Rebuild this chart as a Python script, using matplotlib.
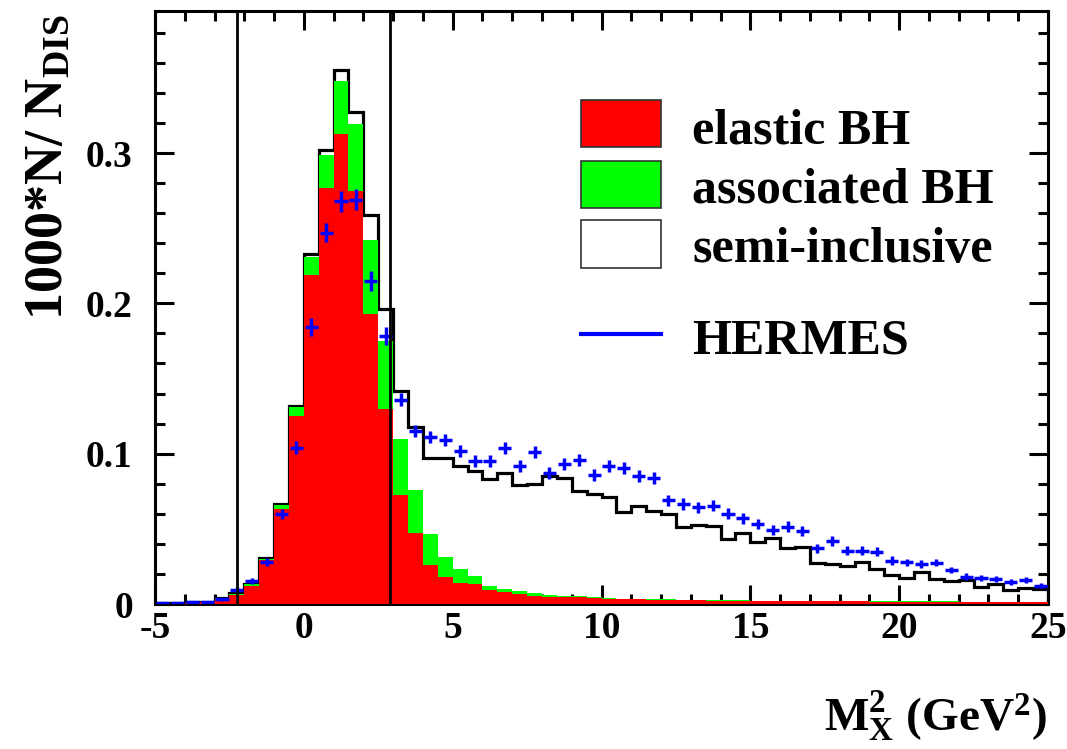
import numpy as np
import matplotlib
matplotlib.use('Agg')
import matplotlib.pyplot as plt
from matplotlib.ticker import MultipleLocator, FuncFormatter
from matplotlib.patches import Rectangle
from matplotlib.lines import Line2D

plt.rcParams['font.family'] = 'Liberation Serif'
plt.rcParams['font.weight'] = 'bold'
plt.rcParams['mathtext.fontset'] = 'custom'
plt.rcParams['mathtext.rm'] = 'Liberation Serif:bold'
plt.rcParams['mathtext.it'] = 'Liberation Serif:bold'
plt.rcParams['mathtext.bf'] = 'Liberation Serif:bold'
plt.rcParams['axes.unicode_minus'] = False

# bin edges of M_X^2 (GeV^2), 0.5 wide from -5 to 25
edges = np.arange(-5.0, 25.01, 0.5)

# elastic BH (red)
elastic = [0, 0, 0.0005, 0.001, 0.0035, 0.006, 0.012, 0.029, 0.063, 0.125,
           0.219, 0.277, 0.313, 0.275, 0.193, 0.130, 0.0725, 0.047, 0.026, 0.018,
           0.0138, 0.013, 0.009, 0.008, 0.0067, 0.0053, 0.0049, 0.0045, 0.0044, 0.0042,
           0.0035, 0.003, 0.003, 0.0028, 0.0026, 0.0025, 0.0024, 0.0023, 0.0022, 0.0021,
           0.002, 0.002, 0.0019, 0.0019, 0.0018, 0.0018, 0.0017, 0.0017, 0.0016, 0.0016,
           0.0015, 0.0015, 0.0015, 0.0014, 0.0014, 0.0014, 0.0013, 0.0013, 0.0013, 0.0012]

# associated BH (green, stacked on elastic)
associated = [0, 0, 0, 0, 0.0002, 0.0005, 0.001, 0.001, 0.003, 0.006,
              0.012, 0.022, 0.035, 0.044, 0.049, 0.045, 0.0375, 0.029, 0.0205, 0.0135,
              0.0092, 0.0056, 0.003, 0.0018, 0.002, 0.0018, 0.0011, 0.001, 0.0006, 0.0005,
              0.0005, 0.0006, 0.0004, 0.0004, 0.0004, 0.0003, 0.0003, 0.0003, 0.0003, 0.0003,
              0.0003, 0.0003, 0.0003, 0.0003, 0.0003, 0.0003, 0.0003, 0.0003, 0.0003, 0.0003,
              0.0003, 0.0003, 0.0002, 0.0003, 0.0002, 0.0002, 0.0002, 0.0002, 0.0002, 0.0002]

# semi-inclusive (open, stacked on top)
semi_inclusive = [0.0005, 0.0005, 0.0005, 0.0005, 0.0003, 0.0005, 0.0005, 0.0005, 0.0005, 0.0005,
                  0.002, 0.003, 0.007, 0.008, 0.017, 0.021, 0.032, 0.042, 0.0505, 0.0655,
                  0.069, 0.0699, 0.071, 0.0772, 0.0703, 0.0729, 0.079, 0.0785, 0.070, 0.0688,
                  0.067, 0.0579, 0.0616, 0.0588, 0.057, 0.0487, 0.0498, 0.0494, 0.0405, 0.0446,
                  0.0387, 0.0414, 0.0353, 0.0355, 0.025, 0.0243, 0.0233, 0.0261, 0.0214, 0.0174,
                  0.0153, 0.0197, 0.0149, 0.0136, 0.0144, 0.0099, 0.0118, 0.0078, 0.0089, 0.0084]

# HERMES data at bin centres
hermes = [0.0005, 0.0007, 0.001, 0.0013, 0.003, 0.0095, 0.015, 0.028, 0.060, 0.104,
          0.184, 0.247, 0.268, 0.269, 0.215, 0.178, 0.136, 0.115, 0.111, 0.109,
          0.102, 0.095, 0.095, 0.1036, 0.092, 0.101, 0.0874, 0.093, 0.0958, 0.0858,
          0.092, 0.0903, 0.085, 0.0836, 0.069, 0.0665, 0.0643, 0.0655, 0.060, 0.057,
          0.0532, 0.0492, 0.0514, 0.0486, 0.037, 0.042, 0.0353, 0.0353, 0.0348, 0.0288,
          0.0277, 0.0266, 0.0275, 0.0226, 0.0182, 0.0175, 0.0166, 0.0148, 0.016, 0.0122]
hermes_err = [0.0008, 0.0008, 0.0008, 0.0008, 0.001, 0.0015, 0.002, 0.0025, 0.0035, 0.0045,
              0.006, 0.0065, 0.007, 0.007, 0.0065, 0.006, 0.0045, 0.004, 0.004, 0.004,
              0.004, 0.004, 0.004, 0.004, 0.004, 0.004, 0.004, 0.004, 0.004, 0.004,
              0.004, 0.004, 0.004, 0.004, 0.0038, 0.0038, 0.0038, 0.0038, 0.0037, 0.0037,
              0.0036, 0.0035, 0.0035, 0.0034, 0.0032, 0.0032, 0.003, 0.003, 0.003, 0.0028,
              0.0025, 0.0025, 0.0024, 0.0023, 0.0022, 0.002, 0.002, 0.0019, 0.0018, 0.0017]

# exclusivity cuts
cuts = [-2.25, 2.89]

elastic = np.array(elastic)
green_top = elastic + np.array(associated)
total = green_top + np.array(semi_inclusive)
centres = 0.5 * (edges[:-1] + edges[1:])

W, H = 1067, 749
fig = plt.figure(figsize=(W / 100, H / 100), dpi=100)
ax = fig.add_axes([155 / W, 1 - 604 / H, (1048 - 155) / W, (604 - 11) / H])

ax.stairs(total, edges, color='black', linewidth=2.3, zorder=1)
ax.stairs(green_top, edges, fill=True, color='#00ff00', zorder=2)
ax.stairs(elastic, edges, fill=True, color='#ff0000', zorder=3)
ax.errorbar(centres, hermes, xerr=0.22, yerr=hermes_err, fmt='none',
            ecolor='#0000ff', elinewidth=2.5, capsize=0, zorder=4)
for c in cuts:
    ax.axvline(c, color='black', linewidth=2.0, zorder=5)

ax.set_xlim(-5, 25)
ax.set_ylim(0, 0.3945)
ax.xaxis.set_major_locator(MultipleLocator(5))
ax.xaxis.set_minor_locator(MultipleLocator(1))
ax.yaxis.set_major_locator(MultipleLocator(0.1))
ax.yaxis.set_minor_locator(MultipleLocator(0.02))
ax.yaxis.set_major_formatter(FuncFormatter(lambda v, p: '%g' % round(v, 3)))
ax.tick_params(which='both', direction='in', top=True, right=True, width=2.2,
               labelsize=27)
ax.tick_params(which='major', length=14)
ax.tick_params(which='minor', length=7)
ax.tick_params(axis='x', pad=5)
ax.tick_params(axis='y', pad=16)
for s in ax.spines.values():
    s.set_linewidth(2.2)

fig.text(49 / W, 1 - 14 / H, r'1000*N/ N$_{\mathrm{DIS}}$', rotation=90,
         ha='center', va='top', fontsize=39)
fig.text(1047 / W, 1 - 730 / H, r'M$_{\mathrm{X}}^{\mathrm{2}}$ (GeV$^{\mathrm{2}}$)',
         ha='right', va='baseline', fontsize=34)

# legend
boxes = [(100, 147, '#ff0000', 'elastic BH', 143),
         (161, 208, '#00ff00', 'associated BH', 203),
         (220, 268, 'white', 'semi-inclusive', 262)]
for y0, y1, col, lab, base in boxes:
    fig.add_artist(Rectangle((581 / W, 1 - y1 / H), 80 / W, (y1 - y0) / H,
                             facecolor=col, edgecolor='#333333', linewidth=1.2,
                             transform=fig.transFigure))
    fig.text(692 / W, 1 - base / H, lab, ha='left', va='baseline', fontsize=36)
fig.add_artist(Line2D([581 / W, 661 / W], [1 - 334 / H, 1 - 334 / H],
                      color='#0000ff', linewidth=3, transform=fig.transFigure))
fig.text(692 / W, 1 - 353 / H, 'HERMES', ha='left', va='baseline', fontsize=36)

fig.savefig('out.png', dpi=100)
